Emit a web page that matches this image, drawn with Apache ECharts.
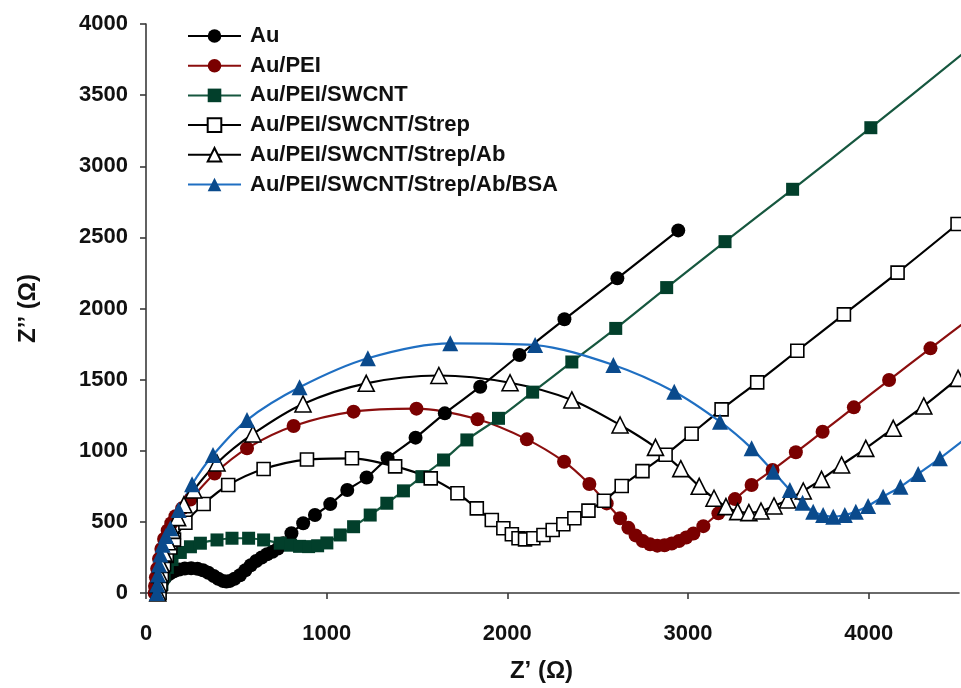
<!DOCTYPE html>
<html>
<head>
<meta charset="utf-8">
<script src="https://cdn.jsdelivr.net/npm/echarts@6/dist/echarts.min.js"></script>
<style>
html,body{margin:0;padding:0;background:#fff;}
#chart{width:961px;height:688px;}
</style>
</head>
<body>
<div id="chart"></div>
<script>
// Tick labels
const xTicks = [0, 1000, 2000, 3000, 4000];
const yTicks = [0, 500, 1000, 1500, 2000, 2500, 3000, 3500, 4000];

// Series names
const seriesNames = ['Au', 'Au/PEI', 'Au/PEI/SWCNT', 'Au/PEI/SWCNT/Strep', 'Au/PEI/SWCNT/Strep/Ab', 'Au/PEI/SWCNT/Strep/Ab/BSA'];

// Data: [Z', Z'']
const au = [[75,0],[78,30],[85,60],[95,90],[110,115],[130,135],[155,152],[185,165],[215,172],[250,174],[285,170],[315,160],[345,142],[375,120],[400,100],[425,85],[445,80],[465,85],[490,100],[520,125],[550,160],[580,195],[610,225],[640,250],[670,272],[700,290],[730,312],[760,350],[805,420],[870,490],[935,548],[1020,625],[1114,724],[1221,812],[1337,947],[1492,1092],[1654,1263],[1850,1450],[2067,1673],[2316,1924],[2609,2212],[2946,2549]];

const auPei = [[48,0],[50,50],[55,110],[62,170],[72,240],[85,310],[100,380],[120,440],[140,490],[163,540],[200,595],[246,657],[380,840],[559,1017],[817,1174],[1149,1275],[1497,1296],[1835,1221],[2108,1080],[2314,923],[2454,766],[2550,630],[2624,525],[2670,458],[2710,405],[2750,365],[2790,342],[2830,333],[2870,336],[2910,348],[2950,366],[2990,390],[3030,418],[3085,470],[3168,560],[3260,660],[3352,759],[3468,865],[3597,989],[3745,1134],[3918,1305],[4113,1497],[4342,1720],[4580,1950]];

const auPeiSwcnt = [[78,0],[88,60],[100,120],[118,180],[144,235],[190,285],[246,325],[301,350],[393,373],[476,385],[568,385],[651,373],[743,350],[800,336],[850,328],[900,326],[950,332],[1001,352],[1075,408],[1149,466],[1241,548],[1333,631],[1425,718],[1527,818],[1647,935],[1776,1076],[1951,1228],[2140,1412],[2357,1624],[2600,1860],[2882,2147],[3205,2470],[3579,2838],[4012,3271],[4520,3790]];

const strep = [[75,0],[80,60],[88,130],[100,200],[115,260],[135,320],[155,375],[218,494],[319,626],[455,759],[651,872],[891,938],[1140,947],[1379,890],[1576,806],[1724,701],[1831,595],[1914,513],[1978,455],[2025,413],[2062,385],[2098,377],[2144,385],[2200,408],[2251,443],[2310,483],[2371,525],[2449,579],[2535,649],[2633,752],[2748,857],[2876,972],[3020,1120],[3186,1291],[3383,1481],[3605,1703],[3863,1959],[4160,2252],[4492,2594]];

const strepAb = [[65,0],[68,60],[75,130],[85,200],[100,280],[120,360],[145,440],[175,530],[210,620],[264,724],[393,914],[592,1118],[869,1329],[1219,1474],[1621,1529],[2015,1478],[2357,1357],[2624,1181],[2820,1024],[2960,874],[3062,750],[3144,666],[3210,607],[3275,572],[3337,565],[3404,576],[3476,612],[3551,654],[3638,717],[3739,799],[3850,900],[3984,1017],[4136,1158],[4305,1315],[4495,1509]];

const strepAbBsa = [[60,0],[62,60],[66,130],[72,200],[80,270],[92,340],[110,400],[135,455],[181,583],[255,764],[371,970],[559,1216],[850,1446],[1228,1650],[1684,1755],[2154,1743],[2587,1603],[2924,1415],[3177,1204],[3352,1017],[3472,853],[3564,724],[3634,635],[3693,572],[3748,548],[3804,536],[3868,548],[3929,572],[3997,612],[4080,677],[4176,747],[4274,837],[4394,947],[4540,1090]];

const FONT = '"Liberation Sans", Arial, sans-serif';

function mk(name, data, symbol, size, lineColor, fill, border) {
  return {
    name: name,
    type: 'line',
    data: data,
    smooth: 0.3,
    symbol: symbol,
    symbolSize: size,
    showAllSymbol: true,
    clip: true,
    lineStyle: {color: lineColor, width: 2.2},
    itemStyle: {color: fill, borderColor: border, borderWidth: border === fill ? 0 : 1.6}
  };
}

const plain = v => String(v);

const chart = echarts.init(document.getElementById('chart'), null, {renderer: 'canvas'});
chart.setOption({
  animation: false,
  backgroundColor: '#ffffff',
  grid: {left: 146, top: 24, width: 813, height: 569, containLabel: false},
  legend: {
    orient: 'vertical',
    left: 187,
    top: 25,
    padding: 0,
    itemWidth: 53,
    itemHeight: 17,
    itemGap: 7.7,
    data: seriesNames,
    textStyle: {fontFamily: FONT, fontWeight: 'bold', fontSize: 22, color: '#111', lineHeight: 17, padding: [0, 0, 0, 4]}
  },
  xAxis: {
    type: 'value', min: 0, max: 4500,
    name: 'Z\u2019 (\u03A9)', nameLocation: 'middle', nameGap: 66,
    nameTextStyle: {fontFamily: FONT, fontWeight: 'bold', fontSize: 24, color: '#111', padding: [0, 22, 0, 0]},
    axisLine: {show: true, lineStyle: {color: '#3a3a3a', width: 1.6}},
    axisTick: {show: true, inside: false, length: 6, customValues: xTicks, lineStyle: {color: '#3a3a3a', width: 1.6}},
    axisLabel: {customValues: xTicks, formatter: plain, margin: 30, fontFamily: FONT, fontWeight: 'bold', fontSize: 22, color: '#111'},
    splitLine: {show: false}
  },
  yAxis: {
    type: 'value', min: 0, max: 4000, interval: 500,
    name: 'Z\u2019\u2019 (\u03A9)', nameLocation: 'middle', nameGap: 106, nameRotate: 90,
    nameTextStyle: {fontFamily: FONT, fontWeight: 'bold', fontSize: 24, color: '#111'},
    axisLine: {show: true, lineStyle: {color: '#3a3a3a', width: 1.6}},
    axisTick: {show: true, inside: false, length: 6, lineStyle: {color: '#3a3a3a', width: 1.6}},
    axisLabel: {margin: 18, formatter: plain, fontFamily: FONT, fontWeight: 'bold', fontSize: 22, color: '#111',
      customValues: yTicks},
    splitLine: {show: false}
  },
  series: [
    mk(seriesNames[0], au, 'circle', 14, '#000000', '#000000', '#000000'),
    mk(seriesNames[1], auPei, 'circle', 14, '#8b0e0e', '#7a0000', '#7a0000'),
    mk(seriesNames[2], auPeiSwcnt, 'rect', 13, '#16573f', '#023f2b', '#023f2b'),
    mk(seriesNames[3], strep, 'rect', 13, '#000000', '#ffffff', '#000000'),
    mk(seriesNames[4], strepAb, 'triangle', 16, '#000000', '#ffffff', '#000000'),
    mk(seriesNames[5], strepAbBsa, 'triangle', 16, '#1f6fc2', '#0a4a8c', '#0a4a8c')
  ]
});
</script>
</body>
</html>
